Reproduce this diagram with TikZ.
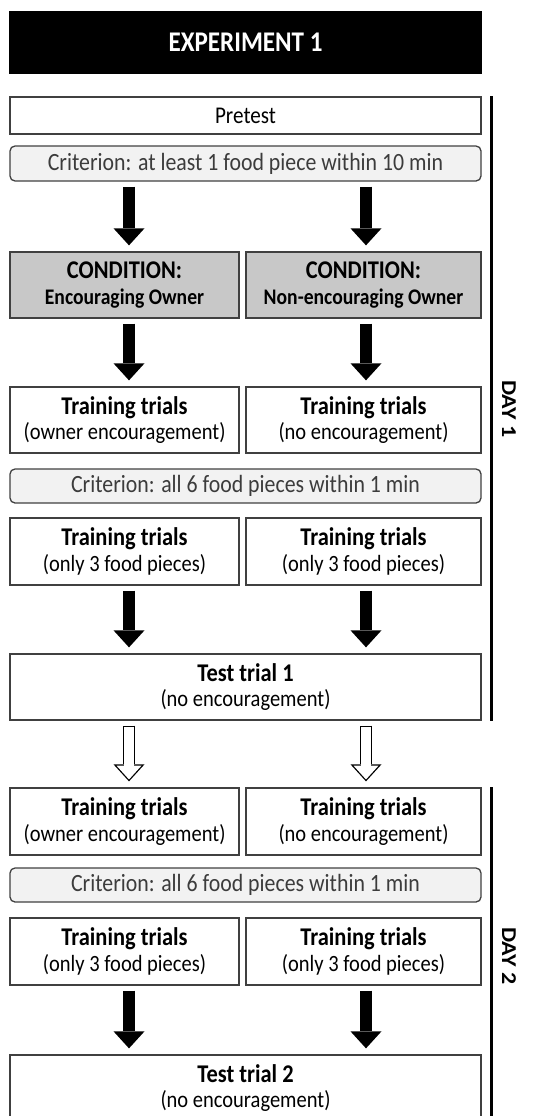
\documentclass[tikz,border=0pt]{standalone}
\usepackage{fontspec}
\setmainfont{Carlito}[FakeStretch=0.88]
\newfontfamily\dayfont{Carlito}
\usetikzlibrary{arrows.meta}

\definecolor{boxline}{RGB}{64,64,64}
\definecolor{condgray}{RGB}{200,200,200}
\definecolor{critgray}{RGB}{242,242,242}
\definecolor{crittext}{RGB}{60,60,60}

\newcommand{\hd}[1]{{\fontsize{25.5}{25.5}\selectfont\bfseries #1}}

\begin{document}
\begin{tikzpicture}[x=1pt,y=-1pt,
	box/.style={draw=boxline,line width=1.3pt,inner sep=0pt,align=center,font=\fontsize{23.3}{25.5}\selectfont},
	fullbox/.style={box,minimum width=471pt,minimum height=66pt},
	leftbox/.style={box,minimum width=229pt,minimum height=66pt},
	rightbox/.style={box,minimum width=235pt,minimum height=66pt},
	crit/.style={fullbox,rounded corners=5pt,fill=critgray,text=crittext,minimum height=34pt,font=\fontsize{24.8}{25.5}\selectfont},
	cond/.style={fill=condgray,font=\fontsize{22.3}{25.5}\selectfont\bfseries},
	blk/.style={line width=12pt,-{Triangle[length=17pt,width=31pt,line width=0pt]},shorten <=5pt,shorten >=6pt},
	hol/.style={white,line width=9.4pt,-{Triangle[length=13.8pt,width=25pt,line width=0pt]},shorten <=6.3pt,shorten >=7.9pt},
	day/.style={rotate=-90,font=\dayfont\fontsize{24}{25}\selectfont\bfseries}]
		\useasboundingbox (0,0) rectangle (541,1116);
		\coordinate (colL) at (129,0);
		\coordinate (colR) at (366,0);
		\coordinate (dayx) at (491.5,0);
		%
		\node[fullbox,draw=black,fill=black,text=white,minimum height=61pt,font=\fontsize{28.5}{30}\selectfont\bfseries] (exp) at (245.5,42.5) {EXPERIMENT 1};
		\node[fullbox,minimum height=37pt,font=\fontsize{24}{25}\selectfont] (pre) at (245.5,115.5) {Pretest};
		\node[crit,minimum height=35pt] (crit1) at (245.5,163.5) {Criterion: at least 1 food piece within 10 min};
		\node[leftbox,cond] (condA) at (124.5,285) {\hd{CONDITION:}\\Encouraging Owner};
		\node[rightbox,cond] (condB) at (363.5,285) {\hd{CONDITION:}\\Non-encouraging Owner};
		\node[leftbox] (trA) at (124.5,420) {\hd{Training trials}\\(owner encouragement)};
		\node[rightbox] (trB) at (363.5,420) {\hd{Training trials}\\(no encouragement)};
		\node[crit] (crit2) at (245.5,486) {Criterion: all 6 food pieces within 1 min};
		\node[leftbox,minimum height=67pt] (trC) at (124.5,551.5) {\hd{Training trials}\\(only 3 food pieces)};
		\node[rightbox,minimum height=67pt] (trD) at (363.5,551.5) {\hd{Training trials}\\(only 3 food pieces)};
		\node[fullbox] (test1) at (245.5,687) {\hd{Test trial 1}\\(no encouragement)};
		%
		\node[leftbox,minimum height=67pt] (trE) at (124.5,821.5) {\hd{Training trials}\\(owner encouragement)};
		\node[rightbox,minimum height=67pt] (trF) at (363.5,821.5) {\hd{Training trials}\\(no encouragement)};
		\node[crit] (crit3) at (245.5,885) {Criterion: all 6 food pieces within 1 min};
		\node[leftbox,minimum height=67pt] (trG) at (124.5,951.5) {\hd{Training trials}\\(only 3 food pieces)};
		\node[rightbox,minimum height=67pt] (trH) at (363.5,951.5) {\hd{Training trials}\\(only 3 food pieces)};
		\node[fullbox] (test2) at (245.5,1088) {\hd{Test trial 2}\\(no encouragement)};
		%
		\path[blk]
		(crit1.south -| colL) edge (condA.north -| colL)
		(crit1.south -| colR) edge (condB.north -| colR)
		(condA.south -| colL) edge (trA.north -| colL)
		(condB.south -| colR) edge (trB.north -| colR)
		(trC.south -| colL) edge (test1.north -| colL)
		(trD.south -| colR) edge (test1.north -| colR)
		(trG.south -| colL) edge (test2.north -| colL)
		(trH.south -| colR) edge (test2.north -| colR)
		(test1.south -| colL) edge (trE.north -| colL)
		(test1.south -| colR) edge (trF.north -| colR);
		\path[hol]
		(test1.south -| colL) edge (trE.north -| colL)
		(test1.south -| colR) edge (trF.north -| colR);
		%
		\draw[line width=3.5pt] (pre.north -| dayx) -- (test1.south -| dayx);
		\draw[line width=3.5pt] (trE.north -| dayx) -- (test2.south -| dayx);
		\node[day] (day1) at (509,409) {\scalebox{1}[0.88]{DAY 1}};
		\node[day] (day2) at (509,956) {\scalebox{1}[0.88]{DAY 2}};
\end{tikzpicture}
\end{document}
